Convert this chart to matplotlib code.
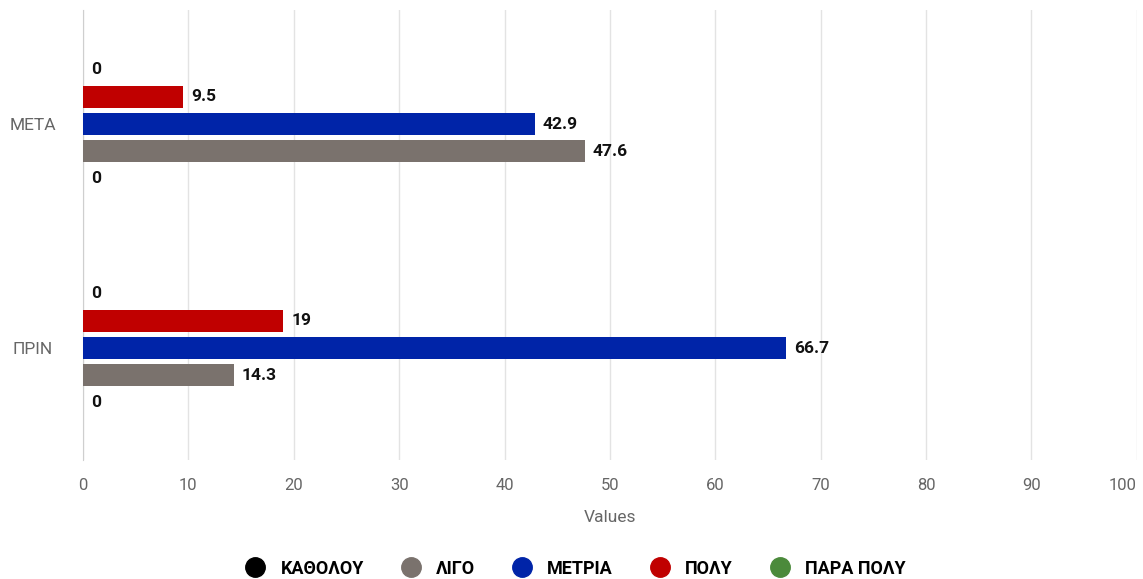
import numpy as np
import matplotlib.pyplot as plt
from matplotlib.lines import Line2D

plt.rcParams['font.family'] = ['Roboto', 'DejaVu Sans']

categories = ['ΠΡΙΝ', 'ΜΕΤΑ']
series_names = ['ΚΑΘΟΛΟΥ', 'ΛΙΓΟ', 'ΜΕΤΡΙΑ', 'ΠΟΛΥ', 'ΠΑΡΑ ΠΟΛΥ']
series_colors = ['#000000', '#7a726d', '#0024a8', '#c00000', '#4b8a3b']
katholou = [0, 0]
ligo = [14.3, 47.6]
metria = [66.7, 42.9]
poly = [19, 9.5]
para_poly = [0, 0]
values = [katholou, ligo, metria, poly, para_poly]

fig = plt.figure(figsize=(11.43, 5.79), dpi=100)
ax = fig.add_axes([0.0726, 0.2055, 0.922, 0.7775])

y = np.arange(len(categories))
step = 0.121
height = 0.098
for i, (name, vals, col) in enumerate(zip(series_names, values, series_colors)):
    pos = y + (i - 2) * step
    ax.barh(pos, vals, height=height, color=col, label=name, zorder=3)
    for p, v in zip(pos, vals):
        ax.text(v + 0.75, p, f'{v:g}', va='center', ha='left', fontsize=12.5,
                fontweight='bold', color='#111111', zorder=4)

ax.set_xlim(0, 100)
ax.set_ylim(-0.5, 1.51)
ticks = np.arange(0, 101, 10)
ax.set_xticks(ticks)
ax.set_yticks(y)
ax.set_yticklabels(categories, ha='center', fontsize=12.5)
ax.grid(axis='x', color='#e3e3e3', linewidth=1, zorder=0)
for s in ['top', 'right', 'bottom']:
    ax.spines[s].set_visible(False)
ax.spines['left'].set_color('#cfcfcf')
ax.tick_params(axis='both', length=0, colors='#666666', labelsize=12)
ax.tick_params(axis='x', pad=13)
ax.tick_params(axis='y', pad=36, labelsize=12.5)
# keep the last tick label inside the figure
ax.get_xticklabels()[-1].set_horizontalalignment('right')
ax.set_xlabel('Values', color='#666666', fontsize=12.5, labelpad=12)

handles = [Line2D([], [], marker='o', linestyle='none', markersize=14,
                  markerfacecolor=c, markeredgecolor=c) for c in series_colors]
fig.legend(handles, series_names, loc='center', bbox_to_anchor=(0.5, 0.018),
           ncol=5, frameon=False, handletextpad=0.4, columnspacing=1.6,
           prop={'weight': 'bold', 'size': 13})

fig.savefig('out.png', dpi=100)
